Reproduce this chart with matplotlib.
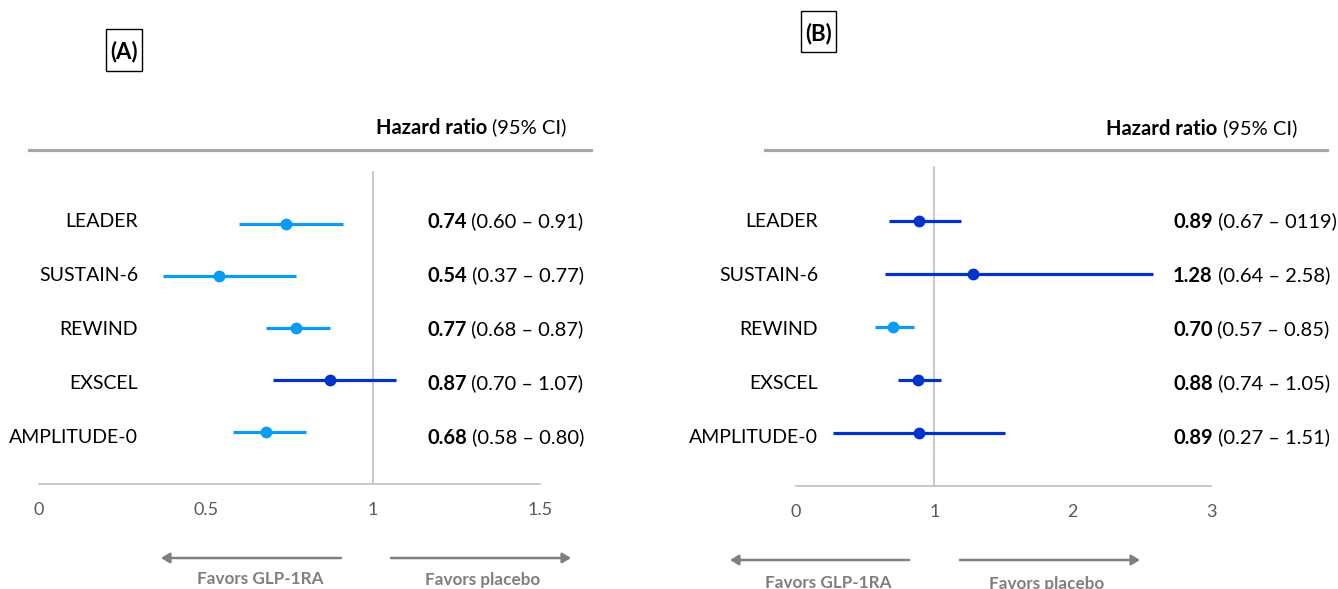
import matplotlib
matplotlib.use("Agg")
import matplotlib.pyplot as plt
from matplotlib.patches import Rectangle, FancyArrowPatch
from matplotlib.lines import Line2D

plt.rcParams['font.family'] = ['Lato', 'DejaVu Sans']

# ---------------- data ----------------
trials = ["LEADER", "SUSTAIN-6", "REWIND", "EXSCEL", "AMPLITUDE-0"]

hr_a = [0.74, 0.54, 0.77, 0.87, 0.68]
lo_a = [0.60, 0.37, 0.68, 0.70, 0.58]
hi_a = [0.91, 0.77, 0.87, 1.07, 0.80]
dark_a = [False, False, False, True, False]
ci_text_a = ["(0.60 – 0.91)", "(0.37 – 0.77)", "(0.68 – 0.87)",
             "(0.70 – 1.07)", "(0.58 – 0.80)"]

hr_b = [0.89, 1.28, 0.70, 0.88, 0.89]
lo_b = [0.67, 0.64, 0.57, 0.74, 0.27]
hi_b = [1.19, 2.58, 0.85, 1.05, 1.51]
dark_b = [True, True, False, True, True]
ci_text_b = ["(0.67 – 0119)", "(0.64 – 2.58)", "(0.57 – 0.85)",
             "(0.74 – 1.05)", "(0.27 – 1.51)"]

ticks_a = [0, 0.5, 1, 1.5]
ticklabels_a = ["0", "0.5", "1", "1.5"]
ticks_b = [0, 1, 2, 3]
ticklabels_b = ["0", "1", "2", "3"]

panel_labels = ["(A)", "(B)"]
header_bold = "Hazard ratio"
header_reg = "(95% CI)"
favors_left = "Favors GLP-1RA"
favors_right = "Favors placebo"

# ---------------- style ----------------
W, H = 1338, 589
LIGHT = "#0A9BF5"
DARK = "#0033CC"
GRID = "#BFBFBF"
HEAD = "#A6A6A6"
ARROW = "#7F7F7F"
TICKC = "#595959"
FS_LAB = 14
FS_VAL = 14.5

fig = plt.figure(figsize=(W / 100, H / 100), dpi=100)


def fx(x):
    return x / W


def fy(y):
    return 1 - y / H


def make_panel(left, right, top, bottom, xmax, line0, step, vtop,
               hr, lo, hi, dark, ticks, ticklabels):
    ax = fig.add_axes([fx(left), fy(bottom), (right - left) / W, (bottom - top) / H])
    ax.set_xlim(0, xmax)
    ax.set_ylim((bottom - line0) / step, (top - line0) / step)
    for s in ["top", "left", "right"]:
        ax.spines[s].set_visible(False)
    ax.spines["bottom"].set_color(GRID)
    ax.spines["bottom"].set_linewidth(1.2)
    ax.set_yticks([])
    ax.set_xticks(ticks)
    ax.set_xticklabels(ticklabels)
    ax.tick_params(axis="x", length=0, pad=13, labelsize=13, labelcolor=TICKC)
    ax.axvline(1, ymin=0, ymax=(bottom - vtop) / (bottom - top), color=GRID, lw=1.2, zorder=1)
    for i in range(len(hr)):
        c = DARK if dark[i] else LIGHT
        ax.hlines(i, lo[i], hi[i], color=c, lw=2.3, zorder=2)
        ax.plot(hr[i], i, "o", color=c, ms=7.5, zorder=3)
    ax.patch.set_alpha(0)
    return ax


make_panel(39, 540, 150, 484, 1.5, 224, 52.1, 172,
           hr_a, lo_a, hi_a, dark_a, ticks_a, ticklabels_a)
make_panel(796, 1211, 150, 486, 3, 220.7, 53, 167,
           hr_b, lo_b, hi_b, dark_b, ticks_b, ticklabels_b)


def texts(label_right, value_left, hr, ci_text):
    for i, name in enumerate(trials):
        y = fy(220 + 54 * i)
        fig.text(fx(label_right), y, name, ha="right", va="center_baseline",
                 fontsize=FS_LAB, color="#000000")
        tb = fig.text(fx(value_left), y, f"{hr[i]:.2f}", ha="left",
                      va="center_baseline", fontsize=FS_VAL, fontweight="bold", color="#000000")
        fig.add_artist(plt.Annotation(" " + ci_text[i], xy=(1, y),
                                      xycoords=(tb, "figure fraction"),
                                      ha="left", va="center_baseline",
                                      fontsize=FS_VAL, color="#000000"))


texts(138, 427, hr_a, ci_text_a)
texts(818, 1173, hr_b, ci_text_b)


def header(x0, x1, text_right, ty):
    fig.add_artist(Line2D([fx(x0), fx(x1)], [fy(150), fy(150)], color=HEAD, lw=2.3,
                          transform=fig.transFigure))
    tr = fig.text(fx(text_right), fy(ty), header_reg, ha="right", va="center_baseline",
                  fontsize=FS_VAL, color="#000000")
    fig.add_artist(plt.Annotation(header_bold + " ", xy=(0, fy(ty)),
                                  xycoords=(tr, "figure fraction"),
                                  ha="right", va="center_baseline",
                                  fontsize=FS_VAL, fontweight="bold", color="#000000"))


header(29, 591, 566, 126)
header(765, 1327, 1297, 127)


def box(x0, x1, y0, y1, label):
    fig.add_artist(Rectangle((fx(x0), fy(y1)), (x1 - x0) / W, (y1 - y0) / H,
                             transform=fig.transFigure, fill=False,
                             edgecolor="#000000", lw=1.0))
    fig.text(fx((x0 + x1) / 2), fy((y0 + y1) / 2), label, ha="center",
             va="center_baseline", fontsize=16, fontweight="bold")


box(106, 142, 29, 71, panel_labels[0])
box(800.5, 836, 11, 52, panel_labels[1])


def favors(l_head, l_tail, r_tail, r_head, ay, lc, rc, ty):
    for a, b in [(l_tail, l_head), (r_tail, r_head)]:
        fig.add_artist(FancyArrowPatch((fx(a), fy(ay)), (fx(b), fy(ay)),
                                       transform=fig.transFigure,
                                       arrowstyle="-|>,head_length=0.5,head_width=0.3",
                                       mutation_scale=10, lw=1.8, color=ARROW,
                                       shrinkA=0, shrinkB=0))
    fig.text(fx(lc), fy(ty), favors_left, ha="center", va="center_baseline",
             fontsize=12.3, fontweight="bold", color=ARROW)
    fig.text(fx(rc), fy(ty), favors_right, ha="center", va="center_baseline",
             fontsize=12.3, fontweight="bold", color=ARROW)


favors(161, 341, 391, 571, 558, 260, 483, 578)
favors(730, 909, 960, 1140, 560, 828, 1047, 582)

fig.savefig("out.png", dpi=100)
